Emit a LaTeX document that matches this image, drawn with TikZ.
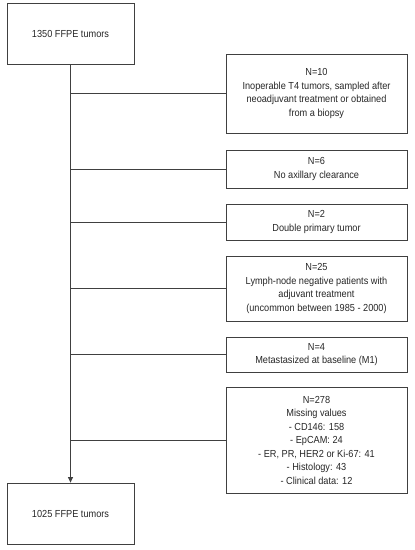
\documentclass[tikz,border=0pt]{standalone}
\usepackage{fontspec}
\setmainfont{Liberation Sans}[FakeStretch=0.9]
\usetikzlibrary{calc,arrows.meta}
\colorlet{linegray}{black!75}
\tikzset{
    box/.style={draw=linegray,line width=0.8pt,align=center,inner sep=2pt,
        font=\fontsize{10.2}{13.5}\selectfont,text=black!85},
    excl/.style={box,minimum width=181pt},
    main/.style={box,minimum width=127pt,minimum height=61pt}
}

\begin{document}
\begin{tikzpicture}[x=1pt,y=-1pt]
            % page frame
            \useasboundingbox (0,0) rectangle (415,550);
            % main boxes
            \node[main] (start) at (70.5,33.5) {1350 FFPE tumors};
            \node[main] (final) at (70.5,513.5) {1025 FFPE tumors};
            % exclusion boxes
            \node[excl,minimum height=79pt] (ex1) at (316.5,93.5) {N=10\\Inoperable T4 tumors, sampled after\\neoadjuvant treatment or obtained\\from a biopsy};
            \node[excl,minimum height=38pt] (ex2) at (316.5,169) {N=6\\No axillary clearance};
            \node[excl,minimum height=36pt] (ex3) at (316.5,222) {N=2\\Double primary tumor};
            \node[excl,minimum height=65pt] (ex4) at (316.5,288.5) {N=25\\Lymph-node negative patients with\\adjuvant treatment\\(uncommon between 1985 - 2000)};
            \node[excl,minimum height=35pt] (ex5) at (316.5,354.5) {N=4\\Metastasized at baseline (M1)};
            \node[excl,minimum height=106pt] (ex6) at (316.5,440) {N=278\\Missing values\\- CD146: 158\\- EpCAM: 24\\- ER, PR, HER2 or Ki-67: 41\\- Histology: 43\\- Clinical data: 12};
            % trunk
            \draw[linegray,line width=0.8pt,-{Triangle[length=5.5pt,width=5pt]}] (start) -- (final);
            % branches
            \foreach \b in {ex1,ex2,ex3,ex4,ex5,ex6} {
                \draw[linegray,line width=0.8pt] (start.south |- \b.west) -- (\b.west);
            }
        \end{tikzpicture}
\end{document}
